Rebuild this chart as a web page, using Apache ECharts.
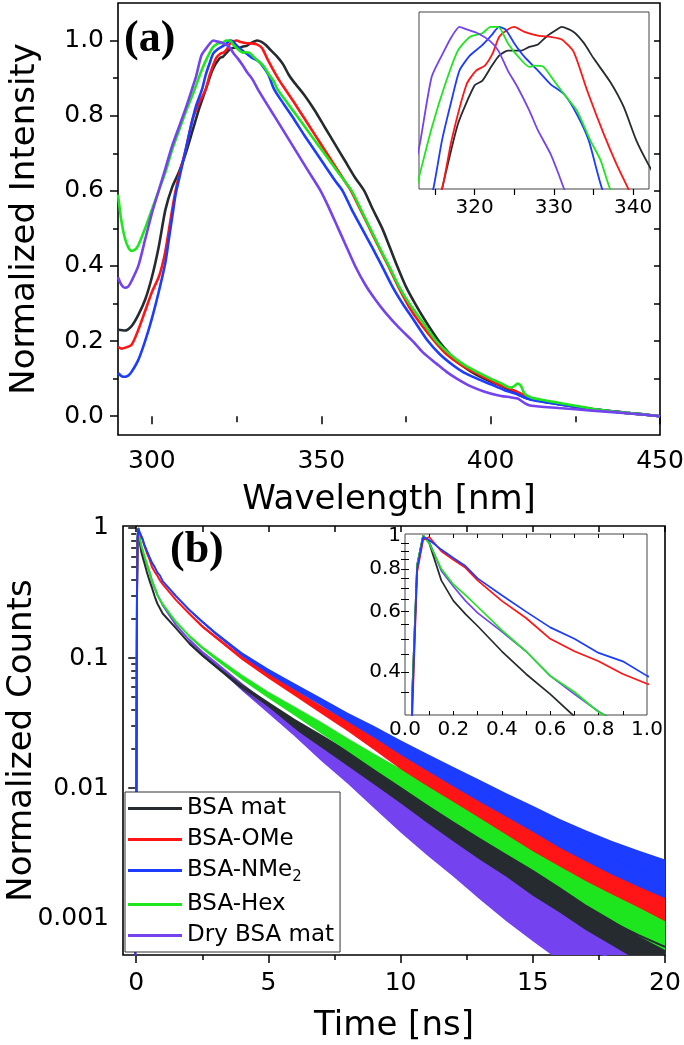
<!DOCTYPE html>
<html><head><meta charset="utf-8">
<script src="https://cdn.jsdelivr.net/npm/echarts@6/dist/echarts.min.js"></script>
<style>html,body{margin:0;padding:0;background:#fff}#c{width:684px;height:1045px}</style>
</head><body><div id="c"></div>
<script>
// ---------- data ----------
const names = ['BSA mat', 'BSA-OMe', 'BSA-NMe2', 'BSA-Hex', 'Dry BSA mat'];
const colors = ['#262b30', '#ff1515', '#1c3cff', '#1ee61e', '#7443ef'];

// Panel (a): emission spectra [wavelength nm, normalized intensity]
const specBSAmat = [[290,0.23],[292,0.228],[294,0.24],[296,0.27],[298,0.31],[300,0.37],[302,0.45],[304,0.55],[306,0.61],[308,0.65],[310,0.7],[312,0.76],[314,0.82],[315.9,0.87],[317.9,0.922],[320,0.953],[321,0.957],[322.1,0.968],[323.1,0.977],[324.2,0.981],[325.9,0.981],[326.9,0.984],[328,0.986],[329.2,0.993],[330.4,0.998],[331,1.0],[332.5,0.996],[333.8,0.987],[335,0.975],[337.1,0.956],[338.8,0.936],[340.4,0.909],[341.9,0.89],[345,0.855],[348,0.815],[351,0.77],[354,0.725],[357,0.68],[360,0.635],[362.7,0.6],[365,0.555],[368,0.5],[370,0.455],[372.4,0.4],[375,0.345],[378,0.295],[381,0.25],[384.7,0.2],[388,0.165],[391,0.14],[394,0.12],[398,0.1],[402,0.085],[406,0.068],[410,0.05],[415,0.04],[420,0.032],[425,0.025],[430,0.019],[435,0.014],[440,0.009],[445,0.005],[450,0.0]];
const specOMe = [[290,0.185],[291,0.18],[292,0.182],[294,0.19],[296,0.23],[298,0.28],[300,0.33],[302,0.37],[303,0.4],[304,0.44],[306,0.55],[307,0.6],[308,0.64],[310,0.71],[312,0.79],[314,0.835],[315.9,0.87],[317.1,0.909],[319,0.954],[320.2,0.965],[321.3,0.969],[322.3,0.979],[323.1,0.992],[324.2,0.998],[325,1.0],[326.3,0.996],[328,0.993],[329.6,0.992],[331,0.99],[332.5,0.98],[334.2,0.949],[336.3,0.914],[337.9,0.89],[339.4,0.87],[342,0.835],[345,0.793],[348,0.751],[351,0.709],[354,0.667],[357,0.625],[358.8,0.6],[361,0.56],[364,0.505],[367,0.45],[369.8,0.4],[373,0.34],[376,0.29],[379,0.25],[383.4,0.2],[387,0.165],[391,0.138],[395,0.118],[399,0.1],[403,0.082],[406,0.072],[409,0.06],[411,0.05],[415,0.042],[420,0.033],[425,0.026],[430,0.019],[435,0.014],[440,0.009],[445,0.005],[450,0.0]];
const specNMe2 = [[290,0.115],[291,0.107],[292,0.105],[293,0.108],[294,0.118],[296,0.15],[298,0.2],[300,0.26],[302,0.33],[304,0.41],[305,0.47],[306,0.53],[307,0.59],[308,0.63],[310,0.71],[312,0.79],[313,0.825],[314.8,0.87],[315.9,0.909],[317.1,0.941],[318.1,0.965],[319.4,0.977],[320.9,0.985],[322.1,0.993],[323.1,1.0],[323.9,0.998],[325,0.987],[326.3,0.976],[328,0.965],[329.6,0.954],[331.3,0.946],[332.9,0.93],[334.4,0.909],[336.1,0.87],[339,0.83],[342,0.79],[345,0.748],[348,0.708],[351,0.668],[354,0.628],[356.3,0.6],[359,0.55],[362,0.5],[365,0.45],[367.9,0.4],[371,0.345],[374,0.3],[377,0.26],[381.5,0.2],[385,0.165],[389,0.135],[392,0.117],[396,0.1],[400,0.085],[404,0.07],[408,0.058],[410,0.05],[413,0.042],[420,0.032],[425,0.025],[430,0.019],[435,0.014],[440,0.009],[445,0.005],[450,0.0]];
const specHex = [[290,0.59],[291,0.52],[292,0.475],[293,0.45],[294,0.44],[295,0.443],[296,0.455],[298,0.5],[300,0.55],[302,0.6],[304,0.65],[306,0.71],[308,0.76],[310,0.81],[312,0.855],[313.1,0.882],[314.6,0.919],[316.3,0.954],[317.9,0.981],[319.4,0.992],[321,0.995],[322,1.0],[323,1.0],[324.2,0.987],[325.4,0.977],[326.9,0.968],[327.6,0.969],[328.7,0.968],[330,0.957],[331.3,0.946],[332.9,0.933],[334.6,0.909],[335.9,0.893],[337.1,0.87],[340,0.834],[343,0.797],[346,0.76],[349,0.723],[352,0.686],[355,0.649],[359,0.6],[362,0.545],[365,0.49],[368,0.435],[370,0.4],[373,0.345],[376,0.3],[380,0.25],[384,0.2],[388,0.165],[392,0.138],[396,0.118],[400,0.1],[403,0.088],[406,0.076],[407,0.08],[408,0.087],[409,0.08],[410,0.06],[412,0.05],[415,0.044],[420,0.036],[425,0.028],[430,0.02],[435,0.014],[440,0.009],[445,0.005],[450,0.0]];
const specDry = [[290,0.37],[291,0.35],[292,0.342],[293,0.345],[294,0.36],[296,0.4],[298,0.47],[300,0.54],[302,0.6],[304,0.66],[306,0.72],[308,0.77],[310,0.82],[312,0.875],[313.1,0.906],[314.6,0.96],[316.1,0.98],[317.1,0.992],[318.1,1.0],[319,0.998],[320.4,0.995],[321.9,0.989],[323,0.981],[324.2,0.965],[325.4,0.952],[326.9,0.933],[328,0.917],[329.6,0.898],[330.6,0.882],[331.3,0.87],[334,0.83],[337,0.787],[340,0.743],[343,0.699],[346,0.655],[349.8,0.6],[352,0.56],[355,0.5],[357,0.46],[360,0.4],[363,0.35],[366,0.31],[369,0.275],[373,0.235],[377,0.2],[380,0.17],[384,0.14],[387,0.118],[390,0.1],[394,0.08],[398,0.066],[402,0.056],[406,0.05],[408,0.047],[410,0.035],[412,0.028],[420,0.022],[430,0.015],[440,0.008],[450,0.0]];

// Panel (b): decay curves, time in ns
const tB = [-0.05,0,0.03,0.05,0.075,0.1,0.15,0.2,0.25,0.3,0.4,0.5,0.6,0.7,0.8,0.9,1,1.5,2,2.5,3,4,5,6,7,8,9,10,11,12,13,14,15,16,17,18,19,20];
const decBSAmat = [0.0003,0.004,0.35,0.82,1.0,0.95,0.74,0.645,0.59,0.545,0.46,0.395,0.345,0.297,0.262,0.24,0.22,0.17,0.13,0.105,0.087,0.06,0.043,0.031,0.023,0.017,0.0125,0.0092,0.0068,0.005,0.0037,0.0028,0.0021,0.0016,0.0012,0.00093,0.00074,0.0006];
const decOMe = [0.0003,0.003,0.3,0.78,0.97,0.99,0.9,0.85,0.805,0.74,0.645,0.575,0.5,0.46,0.43,0.395,0.37,0.28,0.22,0.175,0.145,0.1,0.073,0.054,0.04,0.03,0.022,0.016,0.0122,0.0094,0.0072,0.0055,0.0042,0.0033,0.0026,0.0021,0.0017,0.0014];
const decNMe2 = [0.0003,0.003,0.32,0.8,0.99,0.97,0.91,0.86,0.815,0.75,0.67,0.6,0.54,0.5,0.455,0.43,0.39,0.3,0.235,0.19,0.155,0.107,0.079,0.06,0.046,0.035,0.027,0.0205,0.0158,0.0122,0.0095,0.0074,0.0058,0.0045,0.0036,0.0029,0.0024,0.002];
const decHex = [0.0003,0.004,0.35,0.82,1.0,0.95,0.8,0.72,0.67,0.62,0.53,0.46,0.39,0.35,0.306,0.28,0.26,0.19,0.148,0.12,0.1,0.071,0.052,0.039,0.029,0.0215,0.016,0.012,0.009,0.0068,0.0052,0.004,0.0031,0.0024,0.0018,0.0014,0.0011,0.0009];
const decDry = [0.0003,0.004,0.35,0.82,1.0,0.96,0.79,0.71,0.645,0.595,0.525,0.46,0.39,0.345,0.307,0.28,0.255,0.18,0.138,0.11,0.09,0.06,0.041,0.028,0.019,0.013,0.0088,0.006,0.0042,0.003,0.0021,0.0015,0.0011,0.00082,0.00062,0.00048,0.00038,0.0003];
// noise band half-widths (decades) read at t = 2, 2.5, 3, 4 ... 20 ns
const bandBSAmat = [0.01,0.012,0.015,0.02,0.03,0.04,0.05,0.06,0.07,0.08,0.1,0.11,0.12,0.13,0.15,0.16,0.17,0.18,0.2,0.22];
const bandOMe = [0.008,0.01,0.012,0.015,0.02,0.025,0.03,0.04,0.05,0.06,0.07,0.08,0.09,0.1,0.11,0.12,0.13,0.14,0.15,0.17];
const bandNMe2 = [0.008,0.01,0.012,0.015,0.02,0.025,0.03,0.035,0.045,0.055,0.065,0.075,0.085,0.09,0.1,0.11,0.12,0.13,0.14,0.15];
const bandHex = [0.01,0.012,0.015,0.02,0.025,0.035,0.045,0.05,0.06,0.07,0.08,0.09,0.1,0.11,0.12,0.14,0.15,0.16,0.18,0.2];
const bandDry = [0.012,0.015,0.02,0.03,0.04,0.05,0.07,0.08,0.1,0.12,0.14,0.16,0.18,0.2,0.22,0.24,0.26,0.28,0.3,0.32];

// tick labels / tick positions
const aXMajor = [300,350,400,450];
const aXMinor = [325,375,425];
const aXTop = [300,325,350,375,400,425,450];
const aYMajor = [0,0.2,0.4,0.6,0.8,1.0];
const aYMinor = [0.1,0.3,0.5,0.7,0.9];
const aYAll = [0,0.1,0.2,0.3,0.4,0.5,0.6,0.7,0.8,0.9,1.0];
const insAXTicks = [315,320,325,330,335,340];
const insAXLab = [320,330,340];
const bXMajor = [0,5,10,15,20];
const bXMinor = [2.5,7.5,12.5,17.5];
const bXTop = [0,2.5,5,7.5,10,12.5,15,17.5,20];
const bYMajor = [0.001,0.01,0.1,1];
const bYMinor = [0.0006,0.0007,0.0008,0.0009,0.002,0.003,0.004,0.005,0.006,0.007,0.008,0.009,0.02,0.03,0.04,0.05,0.06,0.07,0.08,0.09,0.2,0.3,0.4,0.5,0.6,0.7,0.8,0.9];
const insBXTicks = [0.1,0.2,0.3,0.4,0.5,0.6,0.7,0.8,0.9];
const insBXLab = [0,0.2,0.4,0.6,0.8,1.0];
const insBYTicks = [0.35,0.4,0.45,0.5,0.55,0.6,0.65,0.7,0.75,0.8,0.85,0.9,0.95];
const insBYLab = [0.4,0.6,0.8,1];

// ---------- chart ----------
const FONT = "'DejaVu Sans', sans-serif";
const specs = [specBSAmat, specOMe, specNMe2, specHex, specDry];
const decs = [decBSAmat, decOMe, decNMe2, decHex, decDry];
const bands = [bandBSAmat, bandOMe, bandNMe2, bandHex, bandDry];
const bandStart = tB.indexOf(2);

function ax(o) {
  return Object.assign({type: 'value', splitLine: {show: false}, axisLine: {show: false},
    axisTick: {show: false}, axisLabel: {show: false}}, o);
}
function ticks(v, len, inside, w) {
  return {show: true, customValues: v, length: len, inside: !!inside, lineStyle: {color: '#000', width: w || 1.5}};
}
function labels(v, size, margin, fmt) {
  return {show: true, customValues: v, fontSize: size, fontFamily: FONT, color: '#000', margin: margin, formatter: fmt};
}
const fmtLog = v => String(+Number(v).toPrecision(6));
const nameStyle = {fontSize: 34, fontFamily: FONT, color: '#000'};

const series = [];
// (a) main
specs.forEach((d, i) => series.push({name: names[i], type: 'line', xAxisIndex: 0, yAxisIndex: 0,
  data: d, showSymbol: false, smooth: 0.25, lineStyle: {width: 2.6, color: colors[i]}, itemStyle: {color: colors[i]}, z: 3}));
// (a) inset
specs.forEach((d, i) => series.push({name: names[i], type: 'line', xAxisIndex: 3, yAxisIndex: 3,
  data: d, showSymbol: false, smooth: 0.2, clip: true, lineStyle: {width: 1.8, color: colors[i]}, itemStyle: {color: colors[i]}, z: 5}));
// (b) noise bands, drawn with library coordinates
const drawOrder = [4, 0, 3, 1, 2];
drawOrder.forEach(i => {
  series.push({name: names[i], type: 'custom', xAxisIndex: 4, yAxisIndex: 4, clip: true, silent: true, z: 2,
    data: [[0, 0]],
    renderItem: function (params, api) {
      const up = [], lo = [];
      const w = bands[i];
      for (let k = 0; k < w.length; k++) {
        const t = tB[bandStart + k], c = decs[i][bandStart + k];
        up.push(api.coord([t, c * Math.pow(10, w[k])]));
        lo.push(api.coord([t, c / Math.pow(10, w[k])]));
      }
      return {type: 'polygon', shape: {points: up.concat(lo.reverse())}, style: {fill: colors[i]}};
    }});
});
drawOrder.forEach(i => series.push({name: names[i], type: 'line', xAxisIndex: 4, yAxisIndex: 4,
  data: tB.map((t, k) => [t, decs[i][k]]), showSymbol: false, clip: true,
  lineStyle: {width: 2, color: colors[i]}, itemStyle: {color: colors[i]}, z: 3}));
// (b) inset
drawOrder.forEach(i => series.push({name: names[i], type: 'line', xAxisIndex: 7, yAxisIndex: 7,
  data: tB.map((t, k) => [t, decs[i][k]]), showSymbol: false, clip: true,
  lineStyle: {width: 1.7, color: colors[i]}, itemStyle: {color: colors[i]}, z: 5}));

const option = {
  animation: false,
  backgroundColor: '#fff',
  grid: [
    {left: 118, top: 3, width: 542, height: 432, show: true, borderColor: '#000', borderWidth: 1.6, containLabel: false, outerBoundsMode: 'none'},
    {left: 419, top: 12, width: 230, height: 177, show: true, borderColor: '#444', borderWidth: 1, backgroundColor: '#fff', containLabel: false, outerBoundsMode: 'none'},
    {left: 123, top: 526, width: 542, height: 429, show: true, borderColor: '#000', borderWidth: 1.6, containLabel: false, outerBoundsMode: 'none'},
    {left: 405, top: 534, width: 242, height: 181, show: true, borderColor: '#444', borderWidth: 1, backgroundColor: '#fff', containLabel: false, outerBoundsMode: 'none'}
  ],
  xAxis: [
    ax({gridIndex: 0, min: 290, max: 450, position: 'bottom', axisTick: ticks(aXMajor, 8), axisLabel: labels(aXMajor, 25, 14, v => String(v)),
      name: 'Wavelength [nm]', nameLocation: 'middle', nameGap: 48, nameMoveOverlap: false, nameTextStyle: nameStyle}),
    ax({gridIndex: 0, min: 290, max: 450, position: 'bottom', axisTick: ticks(aXMinor, 5)}),
    ax({gridIndex: 0, min: 290, max: 450, position: 'top', axisTick: ticks(aXTop, 6, true)}),
    ax({gridIndex: 1, min: 313, max: 342, position: 'bottom', axisTick: ticks(insAXTicks, 6, false, 1.2), axisLabel: labels(insAXLab, 20, 9, v => String(v))}),
    ax({gridIndex: 2, min: -0.5, max: 20, position: 'bottom', axisTick: ticks(bXMajor, 8), axisLabel: labels(bXMajor, 25, 16, v => String(v)),
      name: 'Time [ns]', nameLocation: 'middle', nameGap: 54, nameMoveOverlap: false, nameTextStyle: nameStyle}),
    ax({gridIndex: 2, min: -0.5, max: 20, position: 'bottom', axisTick: ticks(bXMinor, 5)}),
    ax({gridIndex: 2, min: -0.5, max: 20, position: 'top', axisTick: ticks(bXTop, 6, true)}),
    ax({gridIndex: 3, min: 0, max: 1, position: 'bottom', axisTick: ticks(insBXTicks, 4, true, 1), axisLabel: labels(insBXLab, 20, 5, v => Number(v).toFixed(1))}),
    ax({gridIndex: 3, min: 0, max: 1, position: 'top', axisTick: ticks(insBXTicks, 4, true, 1)})
  ],
  yAxis: [
    ax({gridIndex: 0, min: -0.05, max: 1.1, position: 'left', axisTick: ticks(aYMajor, 8), axisLabel: labels(aYMajor, 25, 14, v => Number(v).toFixed(1)),
      name: 'Normalized Intensity', nameLocation: 'middle', nameGap: 76, nameRotate: 90, nameMoveOverlap: false, nameTextStyle: nameStyle}),
    ax({gridIndex: 0, min: -0.05, max: 1.1, position: 'left', axisTick: ticks(aYMinor, 5)}),
    ax({gridIndex: 0, min: -0.05, max: 1.1, position: 'right', axisTick: ticks(aYAll, 6, true)}),
    ax({gridIndex: 1, min: 0.87, max: 1.012, show: false}),
    ax({gridIndex: 2, type: 'log', logBase: 10, min: 0.00052, max: 1.036, position: 'left', axisTick: ticks(bYMajor, 8), axisLabel: labels(bYMajor, 25, 14, fmtLog),
      name: 'Normalized Counts', nameLocation: 'middle', nameGap: 84, nameRotate: 90, nameMoveOverlap: false, nameTextStyle: nameStyle}),
    ax({gridIndex: 2, type: 'log', logBase: 10, min: 0.00052, max: 1.036, position: 'left', axisTick: ticks(bYMinor, 4)}),
    ax({gridIndex: 2, type: 'log', logBase: 10, min: 0.00052, max: 1.036, position: 'right', axisTick: ticks(bYMajor.concat(bYMinor), 5, true)}),
    ax({gridIndex: 3, type: 'log', logBase: 10, min: 0.3, max: 1.01, position: 'left', axisTick: ticks(insBYTicks, 4, true, 1), axisLabel: labels(insBYLab, 20, 4, fmtLog)}),
    ax({gridIndex: 3, type: 'log', logBase: 10, min: 0.3, max: 1.01, position: 'right', axisTick: ticks(insBYTicks, 4, true, 1)})
  ],
  legend: {
    data: names, orient: 'vertical', left: 125, top: 792, padding: [5, 6, 5, 3], itemGap: 8,
    itemWidth: 54, itemHeight: 3, icon: 'rect', selectedMode: false,
    backgroundColor: '#fff', borderColor: '#333', borderWidth: 1, z: 20,
    textStyle: {fontSize: 23, fontFamily: FONT, color: '#000',
      rich: {sub: {fontSize: 15, fontFamily: FONT, color: '#000', padding: [14, 0, 0, 0]}}},
    formatter: n => n === 'BSA-NMe2' ? 'BSA-NMe{sub|2}' : n
  },
  graphic: [
    {type: 'text', left: 124, top: 18, z: 30, style: {text: '(a)', fontSize: 44, fontWeight: 'bold', fontFamily: "'Liberation Serif', serif", fill: '#000'}},
    {type: 'text', left: 170, top: 529, z: 30, style: {text: '(b)', fontSize: 44, fontWeight: 'bold', fontFamily: "'Liberation Serif', serif", fill: '#000'}}
  ],
  series: series
};
const chart = echarts.init(document.getElementById('c'), null, {renderer: 'canvas'});
chart.setOption(option);
</script></body></html>
